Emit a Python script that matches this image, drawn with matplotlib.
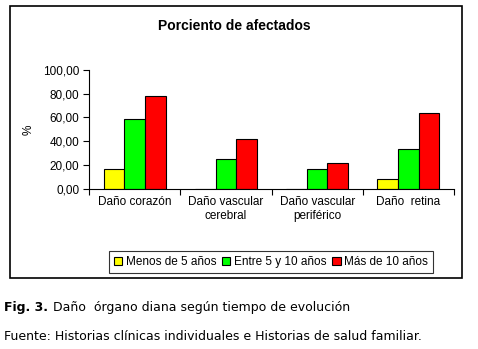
import matplotlib.pyplot as plt
import numpy as np
from matplotlib.patches import Rectangle

categorias = ['Daño corazón', 'Daño vascular\ncerebral', 'Daño vascular\nperiférico', 'Daño  retina']
series = ['Menos de 5 años', 'Entre 5 y 10 años', 'Más de 10 años']
menos_5 = [16.7, 0.0, 0.0, 8.3]
entre_5_10 = [58.3, 25.0, 16.7, 33.3]
mas_10 = [77.8, 41.7, 22.2, 63.9]
colores = ['#FFFF00', '#00FF00', '#FF0000']
yticks = [0, 20, 40, 60, 80, 100]

plt.rcParams['font.family'] = ['Liberation Sans', 'DejaVu Sans']

fig = plt.figure(figsize=(4.78, 3.49), dpi=100)
ax = fig.add_axes([89/478, 1-189/349, (454-89)/478, (189-69.7)/349])

x = np.arange(len(categorias))
w = 0.227
valores = [menos_5, entre_5_10, mas_10]
for i, (vals, col, nom) in enumerate(zip(valores, colores, series)):
    ax.bar(x + (i-1)*w, vals, w, color=col, edgecolor='black', linewidth=0.8, label=nom)

ax.set_xlim(-0.5, len(categorias)-0.5)
ax.set_ylim(0, 100)
ax.set_yticks(yticks)
ax.set_yticklabels([f'{v:.2f}'.replace('.', ',') for v in yticks], fontsize=8.5)
ax.set_xticks(np.arange(len(categorias)+1)-0.5)
ax.set_xticklabels([])
ax.set_xticks(x, minor=True)
ax.set_xticklabels(categorias, minor=True, fontsize=8.5)
ax.tick_params(axis='x', which='minor', length=0, pad=5)
ax.tick_params(axis='x', which='major', length=4, width=0.8, direction='out')
ax.tick_params(axis='y', length=4, width=0.8, pad=3)
for s in ['top', 'right']:
    ax.spines[s].set_visible(False)
for s in ['left', 'bottom']:
    ax.spines[s].set_linewidth(0.8)
ax.set_ylabel('%', fontsize=8.5, labelpad=6)

ax.legend(loc='center', bbox_to_anchor=(271/478, 1-262/349), bbox_transform=fig.transFigure,
          ncol=3, fontsize=8.5, frameon=True, fancybox=False, edgecolor='black',
          handlelength=0.7, handleheight=0.7, handletextpad=0.3, columnspacing=0.5,
          borderpad=0.4).get_frame().set_linewidth(0.8)

fig.text(234.5/478, 1-26/349, 'Porciento de afectados', ha='center', va='center',
         fontsize=10, fontweight='bold')

fig.patches.append(Rectangle((9.5/478, 1-278/349), (462-9.5)/478, (278-6)/349,
                             transform=fig.transFigure, fill=False, edgecolor='black', linewidth=1.2))

fig.text(4/478, 1-307/349, 'Fig. 3.', family='DejaVu Sans', fontsize=9, fontweight='bold', va='center')
fig.text(53/478, 1-307/349, 'Daño  órgano diana según tiempo de evolución', family='DejaVu Sans',
         fontsize=9, va='center')
fig.text(4/478, 1-337/349, 'Fuente: Historias clínicas individuales e Historias de salud familiar.',
         family='DejaVu Sans', fontsize=9, va='center')

fig.savefig('out.png', dpi=100)
